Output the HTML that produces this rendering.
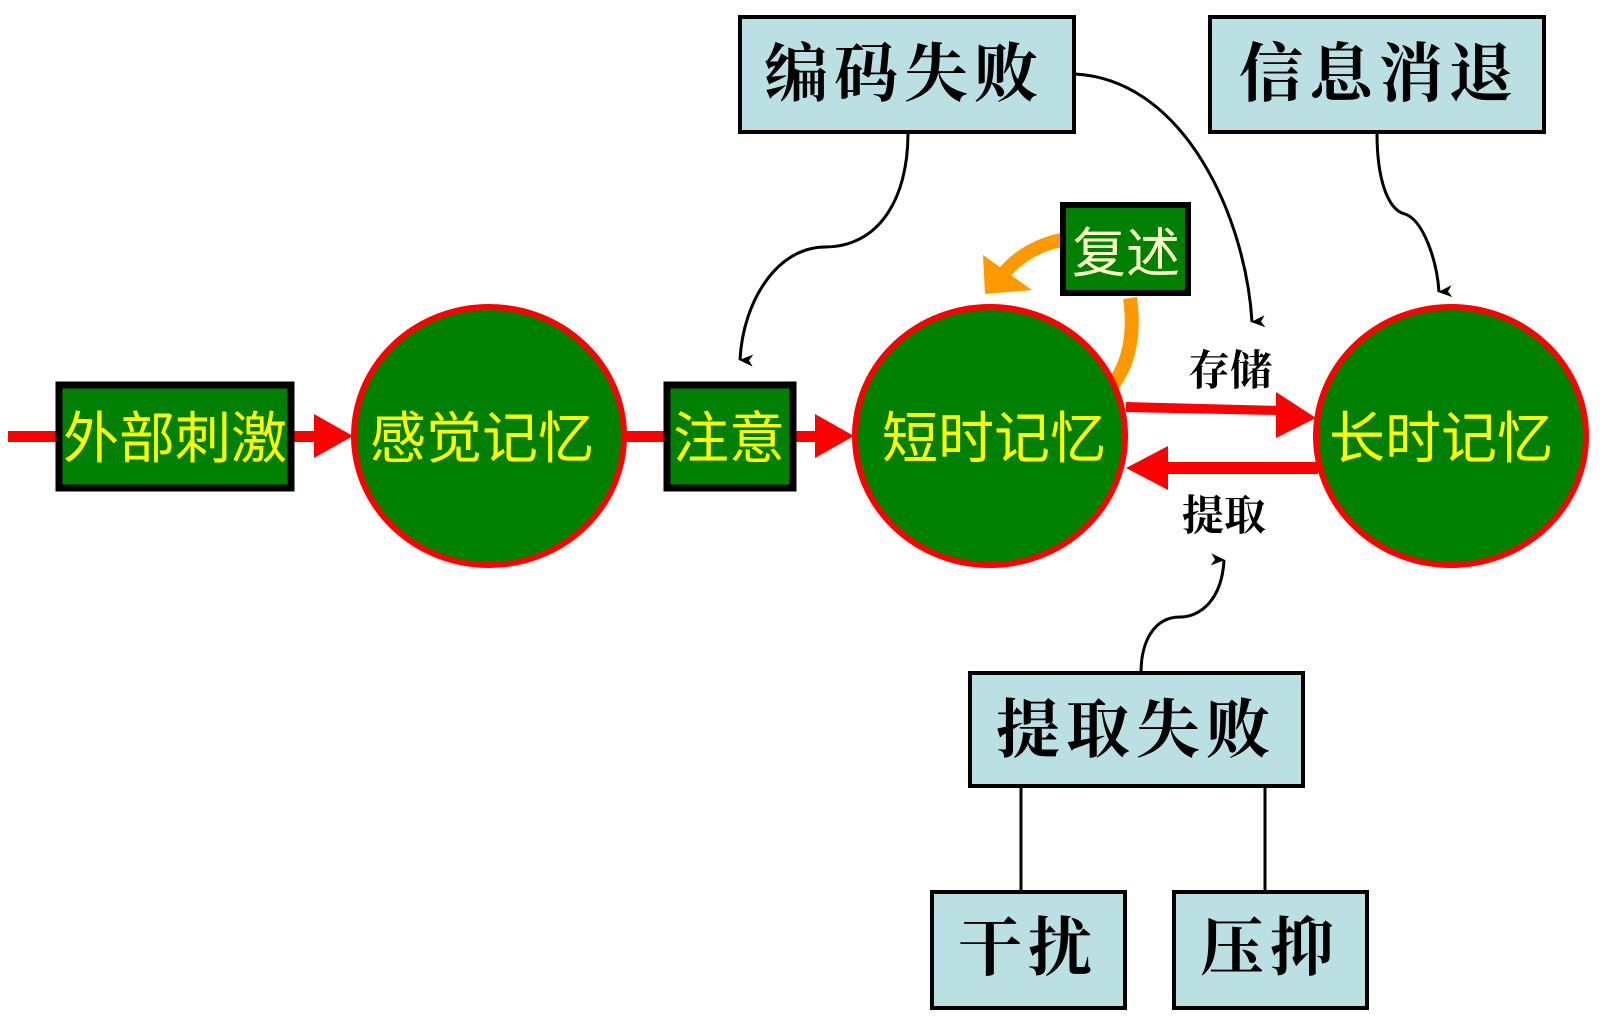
<!DOCTYPE html>
<html><head><meta charset="utf-8"><style>
html,body{margin:0;padding:0;background:#fff;}
svg{display:block;}
.g{font-family:"Liberation Sans","Noto Sans CJK SC",sans-serif;fill:#ffff00;}
.k{font-family:"Liberation Serif","Noto Serif CJK SC",serif;fill:#000;font-weight:bold;}
</style></head><body>
<svg width="1603" height="1022" viewBox="0 0 1603 1022" xmlns="http://www.w3.org/2000/svg">
<defs>
<marker id="ah" markerWidth="12" markerHeight="14" refX="6" refY="13" orient="auto-start-reverse" markerUnits="userSpaceOnUse">
<path d="M0,0 L6,14 L12,0 L6,4 Z" fill="#000"/>
</marker>
</defs>
<rect x="8" y="431" width="50" height="11" fill="#f00"/>
<rect x="292" y="431" width="25" height="11" fill="#f00"/>
<polygon points="314,414 353,436 314,458" fill="#f00"/>
<rect x="620" y="431" width="45" height="11" fill="#f00"/>
<rect x="794" y="431" width="25" height="11" fill="#f00"/>
<polygon points="815,414 854,436 815,458" fill="#f00"/>
<polygon points="1126,402 1280,406 1280,415 1126,412" fill="#f00"/>
<polygon points="1276,392 1316,418 1276,438" fill="#f00"/>
<rect x="1163" y="462" width="155" height="12" fill="#f00"/>
<polygon points="1168,446 1126,468 1168,490" fill="#f00"/>
<rect x="59" y="385" width="232" height="103" fill="#008000" stroke="#000" stroke-width="7"/>
<text x="175" y="458" class="g" font-size="56" text-anchor="middle">外部刺激</text>
<rect x="667" y="385" width="126" height="103" fill="#008000" stroke="#000" stroke-width="7"/>
<text x="729" y="458" class="g" font-size="56" text-anchor="middle">注意</text>
<ellipse cx="489" cy="436" rx="135" ry="129" fill="#008000" stroke="#f00" stroke-width="6"/>
<text x="482" y="458" class="g" font-size="56" text-anchor="middle">感觉记忆</text>
<path d="M1130,298 C1136,340 1126,370 1110,388" fill="none" stroke="#ff9900" stroke-width="14"/>
<ellipse cx="990" cy="436" rx="135" ry="129" fill="#008000" stroke="#f00" stroke-width="6"/>
<text x="994" y="458" class="g" font-size="56" text-anchor="middle">短时记忆</text>
<ellipse cx="1451" cy="436" rx="135" ry="129" fill="#008000" stroke="#f00" stroke-width="6"/>
<text x="1441" y="458" class="g" font-size="56" text-anchor="middle">长时记忆</text>
<path d="M1062,240 C1040,244 1020,255 1005,272" fill="none" stroke="#ff9900" stroke-width="14"/>
<polygon points="983,255 985,294 1032,290" fill="#ff9900"/>
<rect x="1063" y="205" width="125" height="88" fill="#008000" stroke="#000" stroke-width="6"/>
<text x="1126" y="272" font-family="Liberation Sans,Noto Sans CJK SC,sans-serif" font-size="54" fill="#ffffcc" text-anchor="middle">复述</text>
<text x="1230" y="385" class="k" font-size="42" text-anchor="middle">存储</text>
<text x="1224" y="530" class="k" font-size="42" text-anchor="middle">提取</text>
<g fill="#bae0e4" stroke="#000" stroke-width="4">
<rect x="740" y="17" width="334" height="115"/>
<rect x="1210" y="17" width="334" height="115"/>
<rect x="970" y="673" width="333" height="113"/>
<rect x="932" y="892" width="193" height="116"/>
<rect x="1174" y="892" width="193" height="116"/>
</g>
<text x="904" y="96" class="k" font-size="64" text-anchor="middle" letter-spacing="6">编码失败</text>
<text x="1379" y="96" class="k" font-size="64" text-anchor="middle" letter-spacing="6">信息消退</text>
<text x="1136" y="752" class="k" font-size="64" text-anchor="middle" letter-spacing="6">提取失败</text>
<text x="1028" y="970" class="k" font-size="64" text-anchor="middle" letter-spacing="6">干扰</text>
<text x="1270" y="970" class="k" font-size="64" text-anchor="middle" letter-spacing="6">压抑</text>
<g fill="none" stroke="#000" stroke-width="3">
<line x1="1021" y1="786" x2="1021" y2="892"/>
<line x1="1265" y1="786" x2="1265" y2="892"/>
<path d="M908,133 C908,200 878,247 825,247 C778,247 743,300 740,360" marker-end="url(#ah)"/>
<path d="M1075,74 C1186,80 1246,220 1252,322" marker-end="url(#ah)"/>
<path d="M1377,133 C1377,180 1388,210 1405,214 C1423,220 1437,260 1439,292" marker-end="url(#ah)"/>
<path d="M1141,673 C1141,640 1155,617 1180,617 C1200,617 1222,600 1224,560" marker-end="url(#ah)"/>
</g>
</svg>
</body></html>
